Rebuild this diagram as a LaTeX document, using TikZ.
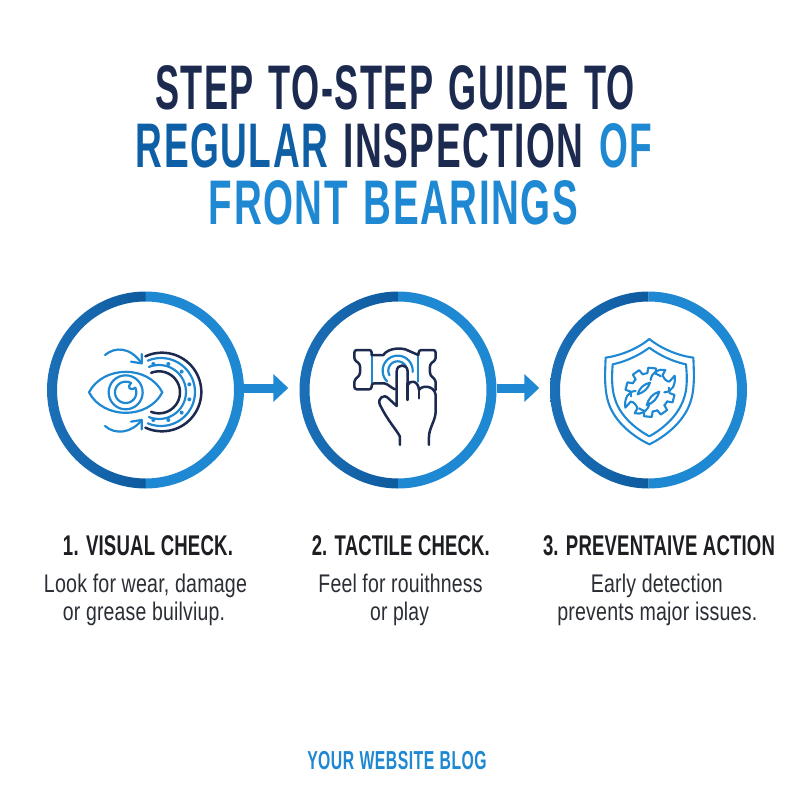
\documentclass[tikz,border=0pt]{standalone}
\usepackage{graphicx}
\usepackage{fontspec}
\setmainfont{Liberation Sans}
\usetikzlibrary{arrows.meta}
\definecolor{navy}{HTML}{1B2A4E}
\definecolor{midblue}{HTML}{0F5FA6}
\definecolor{lightblue}{HTML}{1E88D2}
\definecolor{ringleft}{HTML}{1B70B8}
\definecolor{ringtop}{HTML}{0E5A9E}
\definecolor{headink}{HTML}{1C1E22}
\definecolor{bodyink}{HTML}{2A2E35}
\newcommand\fitw[2]{\resizebox{#1pt}{\height}{#2}}
\newcommand\titlef{\fontsize{63}{63}\selectfont\bfseries\addfontfeature{LetterSpace=4}\spaceskip=.42em\relax}
\newcommand\headf{\fontsize{28.5}{28.5}\selectfont\bfseries\addfontfeature{LetterSpace=1}\spaceskip=.3em\relax}
\newcommand\bodyf{\fontsize{25.5}{25.5}\selectfont\addfontfeature{LetterSpace=1}}
\newcommand\footf{\fontsize{26}{26}\selectfont\bfseries\addfontfeature{LetterSpace=3}\spaceskip=.34em\relax}
\newcommand\arcpath[5]{plot[domain=#4:#5,samples=48,variable=\vv] ({#1+#3*cos(\vv)},{#2+#3*sin(\vv)})}
\newcommand\ringat[2]{%
  \shade[left color=ringleft,right color=ringtop]
    plot[domain=90:270,samples=72,variable=\vv] ({#1+98.5*cos(\vv)},{#2+98.5*sin(\vv)})
    -- plot[domain=270:90,samples=72,variable=\vv] ({#1+88.5*cos(\vv)},{#2+88.5*sin(\vv)}) -- cycle;
  \fill[lightblue]
    plot[domain=-90:90,samples=72,variable=\vv] ({#1+98.5*cos(\vv)},{#2+98.5*sin(\vv)})
    -- plot[domain=90:-90,samples=72,variable=\vv] ({#1+88.5*cos(\vv)},{#2+88.5*sin(\vv)}) -- cycle;
}
\tikzset{
  lbl/.style={anchor=base,inner sep=0pt,outer sep=0pt},
  stepring/.style={circle,minimum size=197pt,inner sep=0pt,outer sep=0pt},
  flow/.style={draw=lightblue,line width=9pt,-{Triangle[length=15pt,width=27pt,fill=lightblue]}},
  inkblue/.style={draw=lightblue,line width=2.2pt,line cap=round,line join=round},
  inkdark/.style={draw=navy,line width=2.5pt,line cap=round,line join=round},
  shieldink/.style={draw=lightblue,line width=2.1pt,line join=round,line cap=round},
}
\begin{document}
\begin{tikzpicture}[x=1pt,y=-1pt]
\useasboundingbox (0,0) rectangle (800,800);
\fill[white] (0,0) rectangle (800,800);
% title
\node[lbl,text=navy] (t1) at (395,110) {\fitw{480}{\titlef STEP TO-STEP GUIDE TO}};
\node[lbl] (t2) at (394,167) {\fitw{516}{\titlef\textcolor{midblue}{REGULAR} \textcolor{navy}{INSPECTION} \textcolor{lightblue}{OF}}};
\node[lbl,text=lightblue] (t3) at (393.5,224) {\fitw{369}{\titlef FRONT BEARINGS}};
% rings
\node[stepring] (c1) at (145.5,390) {};
\node[stepring] (c2) at (398,390) {};
\node[stepring] (c3) at (648.5,390) {};
\ringat{145.5}{390}
\ringat{398}{390}
\ringat{648.5}{390}
% connectors
\coordinate (a1) at (288.3,388);
\coordinate (a2) at (539.3,388);
\draw[flow] (c1.east |- a1) -- (a1);
\draw[flow] (c2.east |- a2) -- (a2);
% eye icon
\begin{scope}[shift={(85,340)},x=0.3333pt,y=-0.3333pt]
  \draw[inkdark] \arcpath{231}{156}{118}{-115}{115};
  \draw[inkdark] \arcpath{222}{157}{63}{-112}{112};
  \draw[inkblue] \arcpath{228}{156}{102}{-113}{113};
  \draw[inkblue] \arcpath{222}{156}{81}{-112}{112};
  \foreach \px/\py in {205/72,250/72,290/95,313/133,313/178,290/218,250/240,205/240}
    \fill[lightblue] (\px,\py) circle (2pt);
  \draw[inkblue,fill=white] (12,157) .. controls (55,75) and (190,75) .. (232,157)
     .. controls (190,239) and (55,239) .. (12,157) -- cycle;
  \draw[inkblue] (122,157) circle (17pt);
  \draw[inkblue] \arcpath{122}{157}{32}{-25}{300};
  \draw[inkblue] (138,129) .. controls (125,140) and (135,155) .. (151,143);
  \draw[inkblue] (60,45) .. controls (90,20) and (135,20) .. (170,70);
  \draw[inkblue] (138,65) -- (170,70) -- (170,42);
  \draw[inkblue] (60,258) .. controls (90,285) and (140,280) .. (170,240);
  \draw[inkblue] (138,245) -- (170,240) -- (170,268);
\end{scope}
% hand icon
\begin{scope}[shift={(345,340)},x=0.3333pt,y=-0.3333pt]
  \draw[inkblue] (80,45) -- (80,130);
  \draw[inkblue] (220,45) -- (220,125);
  \draw[inkdark,rounded corners=2.5pt] (80,45) -- (80,30) -- (28,30) -- (28,60) -- (45,72) -- (45,105) -- (28,120) -- (28,148) -- (80,148) -- (80,130) -- (118,130);
  \draw[inkdark] (118,130) .. controls (130,132) and (140,145) .. (150,148);
  \draw[inkdark] (80,45) -- (115,45) .. controls (130,22) and (175,22) .. (190,32) -- (220,45);
  \draw[inkdark,rounded corners=2.5pt] (220,45) -- (222,30) -- (272,30) -- (272,60) -- (255,72) -- (255,105) -- (272,120) -- (272,150);
  \draw[inkblue] \arcpath{158}{92}{45}{135}{365};
  \draw[inkblue] \arcpath{158}{92}{28}{150}{330};
  \draw[inkdark,fill=white] (165,315) -- (165,290) .. controls (155,270) and (130,245) .. (105,195)
     .. controls (95,175) and (118,160) .. (130,175) -- (155,198) -- (155,95)
     .. controls (155,70) and (188,70) .. (188,95) -- (188,135)
     .. controls (195,118) and (220,122) .. (222,150)
     .. controls (230,135) and (268,135) .. (272,165) -- (272,215)
     .. controls (272,240) and (252,265) .. (252,290) -- (252,315);
  \draw[inkdark] (188,130) -- (188,180);
  \draw[inkdark] (222,150) -- (222,175);
\end{scope}
% shield icon
\begin{scope}[shift={(600,335)},x=0.3333pt,y=-0.3333pt]
  \draw[shieldink] (148,12) .. controls (185,42) and (235,62) .. (280,68)
     .. controls (283,130) and (283,170) .. (270,205) .. controls (250,262) and (195,305) .. (148,328)
     .. controls (100,305) and (45,262) .. (26,205) .. controls (14,170) and (14,130) .. (17,68)
     .. controls (60,62) and (112,42) .. (148,12) -- cycle;
  \draw[shieldink] (148,38) .. controls (180,62) and (220,80) .. (258,88)
     .. controls (262,130) and (262,165) .. (250,195) .. controls (232,245) and (188,282) .. (148,304)
     .. controls (108,282) and (62,245) .. (46,195) .. controls (35,165) and (35,130) .. (38,88)
     .. controls (76,80) and (116,62) .. (148,38) -- cycle;
  \begin{scope}[shift={(150,172)}]
    \foreach \tooth in {-165,-125,-85,15,55,95}{
      \draw[shieldink] (\tooth-13:58) -- (\tooth-9:74) -- (\tooth+9:74) -- (\tooth+13:58);
    }
    \foreach \ga/\gb in {-152/-138,-112/-98,-72/-56,28/42,68/82,-178/-192,-2/-14,108/124}{
      \draw[shieldink] \arcpath{0}{0}{58}{\ga}{\gb};
    }
  \end{scope}
  \draw[shieldink] (193,172) .. controls (215,172) and (228,150) .. (224,122) -- (208,140)
     .. controls (200,140) and (190,130) .. (188,120) -- (196,105)
     .. controls (175,100) and (155,112) .. (152,135);
  \draw[shieldink] (107,168) .. controls (85,168) and (72,190) .. (76,218) -- (92,200)
     .. controls (100,200) and (110,210) .. (112,220) -- (104,235)
     .. controls (125,240) and (145,228) .. (148,205);
  \draw[shieldink] (113,178) .. controls (118,160) and (130,148) .. (150,143)
     .. controls (145,160) and (132,172) .. (113,178) -- cycle;
  \draw[shieldink] (140,210) .. controls (160,205) and (172,190) .. (178,170)
     .. controls (158,176) and (146,190) .. (140,210) -- cycle;
\end{scope}
% captions
\node[lbl,text=headink] (h1) at (148,555.5) {\fitw{170}{\headf 1. VISUAL CHECK.}};
\node[lbl,text=headink] (h2) at (400.8,555.5) {\fitw{178}{\headf 2. TACTILE CHECK.}};
\node[lbl,text=headink] (h3) at (659,555.5) {\fitw{232}{\headf 3. PREVENTAIVE ACTION}};
\node[lbl,text=bodyink] (b1a) at (145.5,592) {\fitw{203}{\bodyf Look for wear, damage}};
\node[lbl,text=bodyink] (b1b) at (144,620) {\fitw{162}{\bodyf or grease builviup.}};
\node[lbl,text=bodyink] (b2a) at (400.5,592) {\fitw{164}{\bodyf Feel for rouithness}};
\node[lbl,text=bodyink] (b2b) at (399.6,620) {\fitw{59}{\bodyf or play}};
\node[lbl,text=bodyink] (b3a) at (656.8,592) {\fitw{132}{\bodyf Early detection}};
\node[lbl,text=bodyink] (b3b) at (657.3,620) {\fitw{200}{\bodyf prevents major issues.}};
% footer
\node[lbl,text=lightblue] (f1) at (397,769) {\fitw{179.5}{\footf YOUR WEBSITE BLOG}};
\end{tikzpicture}
\end{document}
